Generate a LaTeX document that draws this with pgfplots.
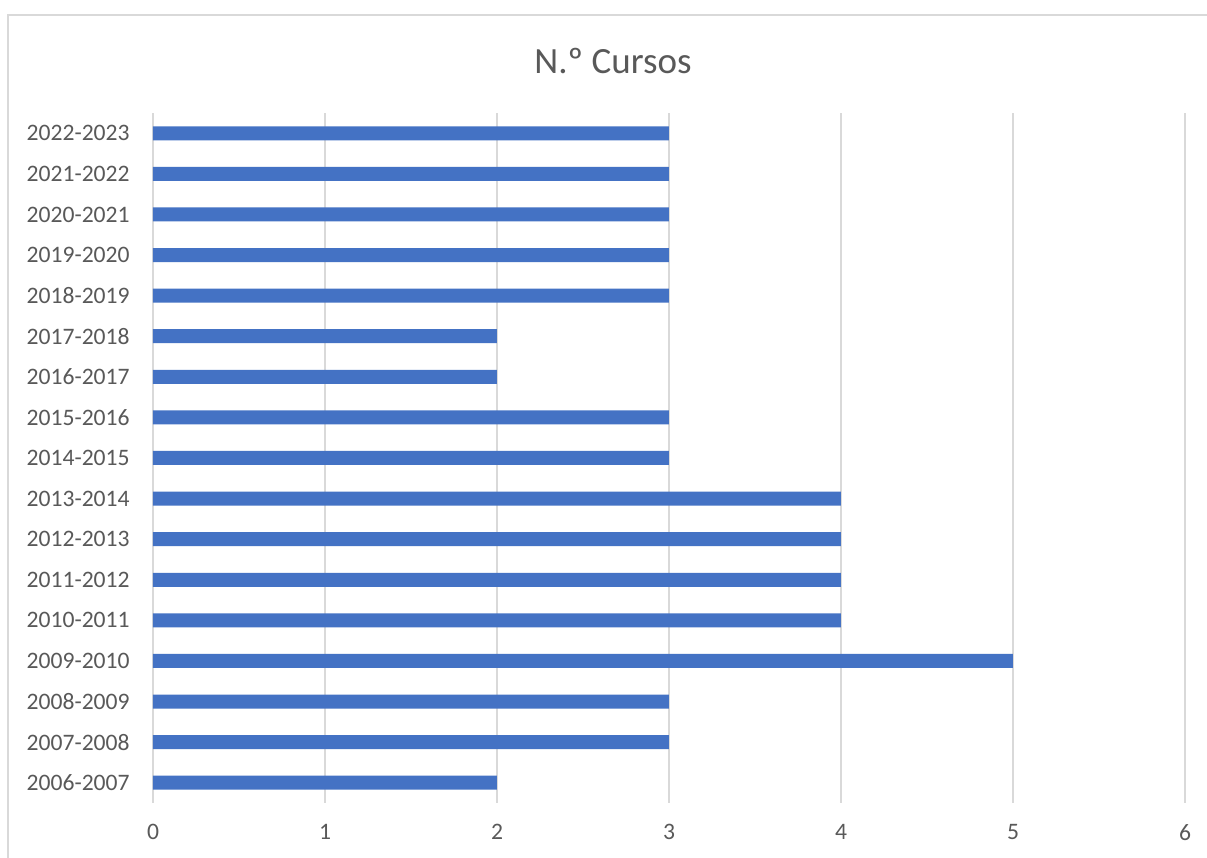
\documentclass[border=0pt]{standalone}
\usepackage{pgfplots}
\pgfplotsset{compat=1.18}
\usepackage{fontspec}
\setmainfont{Carlito}
\definecolor{barblue}{HTML}{4472C4}
\definecolor{gridgray}{HTML}{D9D9D9}
\definecolor{txtgray}{HTML}{595959}
\pgfplotstableread{
y val
0 2
1 3
2 3
3 5
4 4
5 4
6 4
7 4
8 3
9 3
10 2
11 2
12 3
13 3
14 3
15 3
16 3
}\datatable
\begin{document}
\begin{tikzpicture}
\path[use as bounding box, fill=white] (0pt,0pt) rectangle (603.5pt,429pt);
\draw[gridgray, line width=1pt] (4pt,0pt) -- (4pt,421.5pt) -- (603.5pt,421.5pt);
\node[txtgray, font=\fontsize{18.5}{22}\selectfont, anchor=center] at (306.5pt,398.5pt) {N.º Cursos};
\begin{axis}[
  at={(76.5pt,27.5pt)}, anchor=south west,
  scale only axis,
  width=516pt, height=345pt,
  xmin=0, xmax=6,
  ymin=-0.5, ymax=16.5,
  xtick={0,1,2,3,4,5,6},
  ytick={0,...,16},
  yticklabels={2006-2007,2007-2008,2008-2009,2009-2010,2010-2011,2011-2012,2012-2013,2013-2014,2014-2015,2015-2016,2016-2017,2017-2018,2018-2019,2019-2020,2020-2021,2021-2022,2022-2023},
  axis line style={draw=none},
  major tick length=0pt,
  xmajorgrids,
  grid style={gridgray, line width=0.7pt},
  /pgf/number format/assume math mode=true,
  ticklabel style={txtgray, font=\fontsize{11.8}{14}\selectfont, inner sep=0pt},
  xticklabel style={anchor=north, yshift=-10.5pt},
  yticklabel style={anchor=east, xshift=-11.5pt},
  xbar, bar width=7pt,
  clip=false,
]
\addplot[fill=barblue, draw=none] table[x=val, y=y] {\datatable};
\end{axis}
\end{tikzpicture}
\end{document}
